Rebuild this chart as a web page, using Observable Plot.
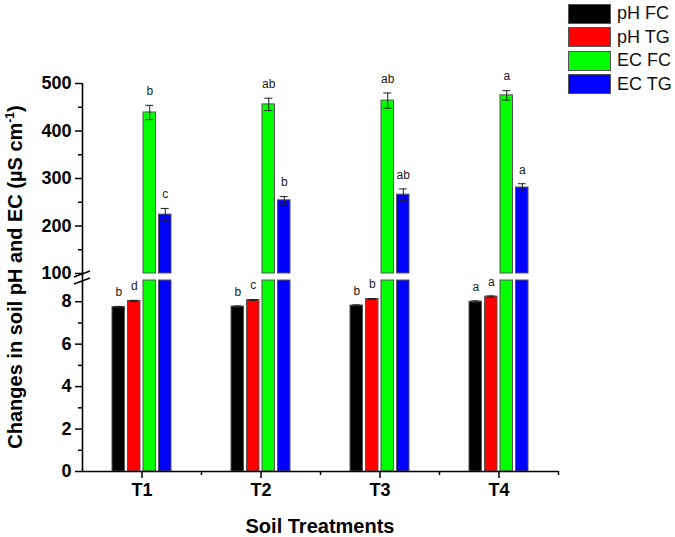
<!DOCTYPE html>
<html><head><meta charset="utf-8">
<script src="https://cdn.jsdelivr.net/npm/d3@7"></script>
<script src="https://cdn.jsdelivr.net/npm/@observablehq/plot@0.6"></script>
<style>
body{margin:0;background:#fff;}
#wrap{position:relative;width:675px;height:537px;font-family:"Liberation Sans",Arial,sans-serif;}
#legend{position:absolute;left:568px;top:2px;}
.item{display:flex;align-items:center;height:23.5px;}
.sw{width:43px;height:20px;border:1px solid #555;box-sizing:border-box;margin-right:6px;}
.lab{font-size:18px;color:#111;}
</style>
</head><body>
<div id="wrap"><div id="legend"></div></div>
<script>
// ---- data ----
const treatments = ["T1", "T2", "T3", "T4"];
const seriesNames = ["pH FC", "pH TG", "EC FC", "EC TG"];
const seriesColors = ["#000000", "#ff0000", "#00ff00", "#0000ff"];
const phFC = [7.75, 7.77, 7.82, 8.00];
const phFCErr = [0.03, 0.03, 0.03, 0.04];
const phFCLetters = ["b", "b", "b", "a"];
const phTG = [8.04, 8.08, 8.13, 8.24];
const phTGErr = [0.02, 0.02, 0.02, 0.03];
const phTGLetters = ["d", "c", "b", "a"];
const ecFC = [439, 456, 464, 475];
const ecFCErr = [15, 13, 16, 10];
const ecFCLetters = ["b", "ab", "ab", "a"];
const ecTG = [224, 254, 266, 281];
const ecTGErr = [13, 8, 12, 8];
const ecTGLetters = ["c", "b", "ab", "a"];
const yMajor = [0, 2, 4, 6, 8, 100, 200, 300, 400, 500];
const yMinor = [1, 3, 5, 7, 150, 250, 350, 450];
const breakLow = 9, breakHigh = 100;

// ---- layout ----
const W = 675, H = 537, mL = 82, mR = 117, mT = 83, mB = 66;
const band = (W - mL - mR) / treatments.length;
const barW = 12.5, step = 15.5;
const offsets = [-1.5, -0.5, 0.5, 1.5].map(k => k * step);
const font = "'Liberation Sans', Arial, sans-serif";

const seriesData = [
  [phFC, phFCErr, phFCLetters],
  [phTG, phTGErr, phTGLetters],
  [ecFC, ecFCErr, ecFCLetters],
  [ecTG, ecTGErr, ecTGLetters]
].map(([v, e, l], s) => treatments.map((t, i) => ({treatment: t, series: seriesNames[s], value: v[i], err: e[i], letter: l[i]})));

const marks = [];
seriesData.forEach((data, s) => {
  const dx = offsets[s];
  const inset = (band - barW) / 2;
  const common = {x: "treatment", dx, insetLeft: inset, insetRight: inset, fill: seriesColors[s], stroke: "#555", strokeWidth: 1};
  if (s < 2) {
    marks.push(Plot.barY(data, {...common, y1: 0, y2: "value"}));
  } else {
    marks.push(Plot.barY(data, {...common, y1: 0, y2: d => Math.min(d.value, breakLow)}));
    marks.push(Plot.barY(data, {...common, y1: breakHigh, y2: "value"}));
  }
  marks.push(Plot.ruleX(data, {x: "treatment", dx, y1: d => d.value - d.err, y2: d => d.value + d.err, stroke: "#222", strokeWidth: 1}));
  const capInset = (band - 8) / 2;
  marks.push(Plot.tickY(data, {x: "treatment", dx, y: d => d.value + d.err, insetLeft: capInset, insetRight: capInset, stroke: "#222", strokeWidth: 1}));
  marks.push(Plot.tickY(data, {x: "treatment", dx, y: d => d.value - d.err, insetLeft: capInset, insetRight: capInset, stroke: "#222", strokeWidth: 1}));
  marks.push(Plot.text(data, {x: "treatment", dx, y: d => d.value + d.err, dy: -14, text: "letter", fontSize: 12, fontWeight: "normal", fill: "#222", fontFamily: font}));
});

marks.push(Plot.ruleY([0], {stroke: "#000", strokeWidth: 1.6}));
marks.push(Plot.ruleX([treatments[0]], {dx: -band / 2, y1: 0, y2: 500, stroke: "#000", strokeWidth: 1.6}));
marks.push(Plot.axisY({ticks: yMajor, tickSize: 7, tickPadding: 4, tickFormat: d => String(d), label: null, fontSize: 18, fontWeight: "bold", strokeWidth: 1.5, fontFamily: font}));
marks.push(Plot.axisY({ticks: yMinor, tickSize: 4, tickFormat: () => "", label: null, strokeWidth: 1.5}));
marks.push(Plot.axisX({tickSize: 7, tickPadding: 5, label: null, fontSize: 18, fontWeight: "bold", strokeWidth: 1.5, fontFamily: font}));
marks.push(Plot.ruleX(treatments, {x: d => d, dx: band / 2, y1: 0, y2: 0, insetBottom: -4, stroke: "#000", strokeWidth: 1.5}));

const chart = Plot.plot({
  width: W, height: H,
  marginLeft: mL, marginRight: mR, marginTop: mT, marginBottom: mB,
  style: {background: "transparent", fontFamily: font, color: "#000"},
  x: {type: "band", domain: treatments, padding: 0},
  y: {type: "linear", domain: [0, breakLow, breakHigh, 500], range: [H - mB, 280, 273, mT]},
  marks
});
document.getElementById("wrap").prepend(chart);

// break marks and titles
const svg = d3.select(chart);
const ys = chart.scale("y");
[breakHigh, breakLow].forEach(v => {
  const y = ys.apply(v) + 1;
  svg.append("line").attr("x1", mL - 8).attr("x2", mL + 8).attr("y1", y + 3).attr("y2", y - 3)
    .attr("stroke", "#000").attr("stroke-width", 1.5);
});
const yt = svg.append("text").attr("transform", `translate(22,${(mT + H - mB) / 2}) rotate(-90)`)
  .attr("text-anchor", "middle").attr("font-size", 20).attr("font-weight", "bold").attr("font-family", font).attr("fill", "#000");
yt.append("tspan").text("Changes in soil pH and EC (\u00b5S cm");
yt.append("tspan").text("-1").attr("font-size", 12).attr("dy", -8);
yt.append("tspan").text(")").attr("dy", 8);
svg.append("text").attr("x", (mL + W - mR) / 2).attr("y", 533).attr("text-anchor", "middle")
  .attr("font-size", 20).attr("font-weight", "bold").attr("font-family", font).attr("fill", "#000").text("Soil Treatments");

// legend
const leg = d3.select("#legend");
seriesNames.forEach((n, i) => {
  const it = leg.append("div").attr("class", "item");
  it.append("div").attr("class", "sw").style("background", seriesColors[i]);
  it.append("div").attr("class", "lab").text(n);
});
</script>
</body></html>
